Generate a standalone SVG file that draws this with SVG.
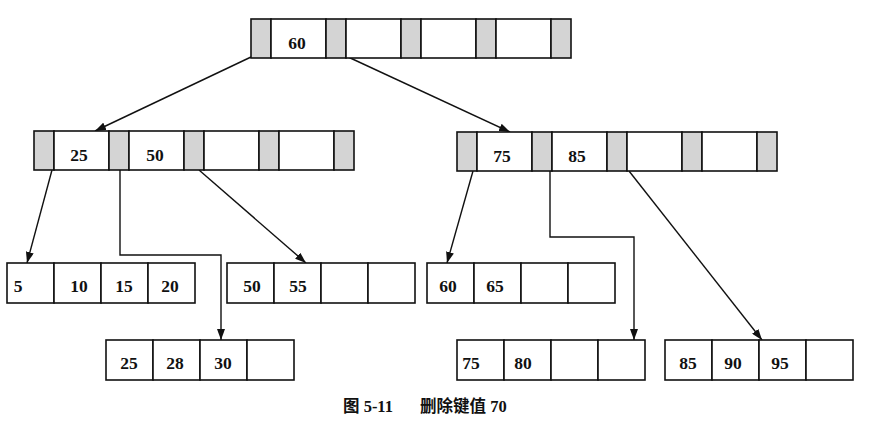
<svg xmlns="http://www.w3.org/2000/svg" width="894" height="426" viewBox="0 0 894 426">
<style>
.g{fill:#d4d4d4;stroke:#111;stroke-width:1.6}
.w{fill:#fff;stroke:#111;stroke-width:1.6}
.t{font-family:"Liberation Serif","Times New Roman",serif;font-size:17.5px;font-weight:bold;fill:#111;text-anchor:middle}
.c{fill:none;stroke:#111;stroke-width:1.4}
.cap{font-family:"Liberation Serif","Noto Sans CJK SC",serif;font-size:16.5px;font-weight:bold;fill:#111}
</style>
<defs>
<marker id="arr" markerUnits="userSpaceOnUse" markerWidth="11" markerHeight="8" refX="11" refY="4" orient="auto">
<path d="M0,0 L11,4 L0,8 z" fill="#111"/>
</marker>
<g id="inode">
<rect class="g" x="0" y="0" width="20" height="39"/>
<rect class="w" x="20" y="0" width="55" height="39"/>
<rect class="g" x="75" y="0" width="20" height="39"/>
<rect class="w" x="95" y="0" width="55" height="39"/>
<rect class="g" x="150" y="0" width="20" height="39"/>
<rect class="w" x="170" y="0" width="55" height="39"/>
<rect class="g" x="225" y="0" width="20" height="39"/>
<rect class="w" x="245" y="0" width="55" height="39"/>
<rect class="g" x="300" y="0" width="20" height="39"/>
</g>
<g id="leaf">
<rect class="w" x="0" y="0" width="47" height="40"/>
<rect class="w" x="47" y="0" width="47" height="40"/>
<rect class="w" x="94" y="0" width="47" height="40"/>
<rect class="w" x="141" y="0" width="47" height="40"/>
</g>
</defs>
<rect width="894" height="426" fill="#fff"/>

<g id="connectors">
<path class="c" d="M251,57 L95,131" marker-end="url(#arr)"/>
<path class="c" d="M346,56 L510,132" marker-end="url(#arr)"/>
<path class="c" d="M52,170 L27,263" marker-end="url(#arr)"/>
<path class="c" d="M120,170 L120,255 L221,255 L221,340" marker-end="url(#arr)"/>
<path class="c" d="M199,170 L306,263" marker-end="url(#arr)"/>
<path class="c" d="M473,171 L447,263" marker-end="url(#arr)"/>
<path class="c" d="M550,171 L550,237 L634,237 L634,340" marker-end="url(#arr)"/>
<path class="c" d="M629,171 L762,340" marker-end="url(#arr)"/>
</g>

<g id="root">
<use href="#inode" x="251" y="19"/>
<text class="t" x="297" y="49">60</text>
</g>
<g id="internal-left">
<use href="#inode" x="34" y="131"/>
<text class="t" x="79" y="161">25</text>
<text class="t" x="155" y="161">50</text>
</g>
<g id="internal-right">
<use href="#inode" x="457" y="132"/>
<text class="t" x="502" y="162">75</text>
<text class="t" x="577" y="162">85</text>
</g>

<g id="leaf1">
<use href="#leaf" x="7" y="263"/>
<text class="t" x="18" y="292">5</text>
<text class="t" x="79" y="292">10</text>
<text class="t" x="124" y="292">15</text>
<text class="t" x="170" y="292">20</text>
</g>
<g id="leaf2">
<use href="#leaf" x="227" y="263"/>
<text class="t" x="252" y="292">50</text>
<text class="t" x="298" y="292">55</text>
</g>
<g id="leaf3">
<use href="#leaf" x="427" y="263"/>
<text class="t" x="448" y="292">60</text>
<text class="t" x="495" y="292">65</text>
</g>
<g id="leaf4">
<use href="#leaf" x="106" y="340"/>
<text class="t" x="129" y="369">25</text>
<text class="t" x="175" y="369">28</text>
<text class="t" x="223" y="369">30</text>
</g>
<g id="leaf5">
<use href="#leaf" x="457" y="340"/>
<text class="t" x="471" y="369">75</text>
<text class="t" x="523" y="369">80</text>
</g>
<g id="leaf6">
<use href="#leaf" x="665" y="340"/>
<text class="t" x="688" y="369">85</text>
<text class="t" x="733" y="369">90</text>
<text class="t" x="780" y="369">95</text>
</g>

<text class="cap" x="343" y="412">图 5-11</text>
<text class="cap" x="420" y="412">删除键值 70</text>
</svg>
